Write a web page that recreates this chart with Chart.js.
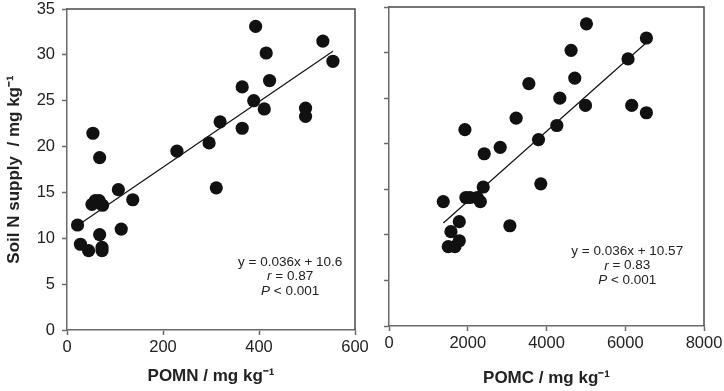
<!DOCTYPE html>
<html>
<head>
<meta charset="utf-8">
<script src="https://cdn.jsdelivr.net/npm/chart.js@4/dist/chart.umd.min.js"></script>
<style>
  html, body { margin: 0; padding: 0; background: #fff; }
  #wrap { position: relative; width: 724px; height: 391px; }
  canvas { position: absolute; top: 0; }
  #chartA { left: 0; }
  #chartB { left: 370px; }
</style>
</head>
<body>
<div id="wrap">
  <canvas id="chartA" width="370" height="391"></canvas>
  <canvas id="chartB" width="354" height="391"></canvas>
</div>
<script>
// left panel: POMN vs soil N supply
const pomn    = [54, 68, 229, 296, 319, 311, 365, 365, 389, 393, 415, 422, 411, 497, 497, 533, 554,
                 107, 137, 22, 28, 45, 68, 73, 73, 113, 52, 59, 67, 74];
const supplyA = [21.45, 18.8, 19.5, 20.4, 22.7, 15.5, 22.0, 26.5, 25.0, 33.1, 30.2, 27.2, 24.1, 24.2, 23.3, 31.5, 29.3,
                 15.3, 14.2, 11.45, 9.35, 8.65, 10.4, 9.0, 8.65, 11.0, 13.7, 14.1, 14.1, 13.6];
const fitAx = [25, 554];
const fitAy = [11.5, 30.4];

// right panel: POMC vs soil N supply
const pomc    = [5015, 6537, 6071, 4624, 4718, 3552, 4338, 4990, 6164, 6537, 3229, 4262, 1928, 3797, 2824, 2418, 3855, 2393,
                 1378, 1953, 2055, 2240, 2320, 1785, 1573, 1505, 1674, 1785, 3070];
const supplyB = [33.15, 31.6, 29.3, 30.25, 27.2, 26.6, 25.0, 24.2, 24.2, 23.4, 22.8, 22.0, 21.55, 20.45, 19.6, 18.9, 15.6, 15.25,
                 13.65, 14.1, 14.1, 14.1, 13.65, 11.45, 10.35, 8.7, 8.7, 9.35, 11.0];
const fitBx = [1380, 6540];
const fitBy = [11.3, 31.1];

const statsA = [[['y = 0.036x + 10.6', false]], [['r', true], [' = 0.87', false]], [['P', true], [' < 0.001', false]]];
const statsB = [[['y = 0.036x + 10.57', false]], [['r', true], [' = 0.83', false]], [['P', true], [' < 0.001', false]]];

const FONT = '"Liberation Sans", Arial, sans-serif';
const AXIS = '#6a6a6a';

const pts = (xs, ys) => xs.map((x, i) => ({ x, y: ys[i] }));

// closes the box on top and right
const boxPlugin = {
  id: 'box',
  afterDraw(chart) {
    const { ctx, chartArea: a } = chart;
    ctx.save();
    ctx.strokeStyle = '#4a4a4a';
    ctx.lineWidth = 1.5;
    ctx.beginPath();
    ctx.moveTo(a.left, a.top);
    ctx.lineTo(a.right, a.top);
    ctx.lineTo(a.right, a.bottom);
    ctx.stroke();
    ctx.restore();
  }
};

// regression text block
const statPlugin = {
  id: 'stat',
  afterDraw(chart, args, opts) {
    const { ctx } = chart;
    const cx = chart.scales.x.getPixelForValue(opts.x);
    let cy = chart.scales.y.getPixelForValue(opts.y);
    ctx.save();
    ctx.fillStyle = '#222';
    ctx.textBaseline = 'middle';
    ctx.textAlign = 'left';
    opts.lines.forEach(line => {
      const fonts = line.map(([t, it]) => (it ? 'italic ' : '') + '13.5px ' + FONT);
      let w = 0;
      line.forEach(([t], i) => { ctx.font = fonts[i]; w += ctx.measureText(t).width; });
      let x = cx - w / 2;
      line.forEach(([t], i) => { ctx.font = fonts[i]; ctx.fillText(t, x, cy); x += ctx.measureText(t).width; });
      cy += 14.5;
    });
    ctx.restore();
  }
};

function makeChart(el, cfg) {
  return new Chart(el.getContext('2d'), {
    type: 'scatter',
    data: {
      datasets: [
        { data: pts(cfg.xs, cfg.ys), pointRadius: 6.6, pointHoverRadius: 6.6, backgroundColor: '#111', borderWidth: 0 },
        { type: 'line', data: pts(cfg.fx, cfg.fy), borderColor: '#111', borderWidth: 1.2, pointRadius: 0, fill: false }
      ]
    },
    options: {
      responsive: false, animation: false,
      layout: { padding: cfg.pad },
      plugins: { legend: { display: false }, tooltip: { enabled: false }, stat: { x: cfg.sx, y: cfg.sy, lines: cfg.stats } },
      scales: {
        x: {
          type: 'linear', min: 0, max: cfg.xmax,
          ticks: { stepSize: cfg.xstep, padding: 3, color: '#222', font: { family: FONT, size: 16.5 }, callback: v => v },
          grid: { drawOnChartArea: false, drawTicks: true, tickLength: 5, tickWidth: 1.5, tickColor: AXIS },
          border: { color: AXIS, width: 1.5 },
          title: { display: true, text: cfg.xtitle, color: '#222', padding: { top: 0, bottom: cfg.xtpad }, font: { family: FONT, size: 17, weight: 'bold' } },
          afterFit: s => { s.height = cfg.xh; s.paddingLeft = 0; s.paddingRight = 0; }
        },
        y: {
          min: 0, max: 35,
          ticks: { display: cfg.ylabels, stepSize: 5, padding: 7, color: '#222', font: { family: FONT, size: 16.5 } },
          grid: { drawOnChartArea: false, drawTicks: true, tickLength: 5, tickWidth: 1.5, tickColor: AXIS },
          border: { color: AXIS, width: 1.5 },
          title: { display: cfg.ylabels, text: 'Soil N supply  / mg kg⁻¹', color: '#222', padding: { top: 4, bottom: 0 }, font: { family: FONT, size: 17, weight: 'bold' } },
          afterFit: s => { s.width = cfg.yw; s.paddingTop = 0; s.paddingBottom = 0; }
        }
      }
    },
    plugins: [boxPlugin, statPlugin]
  });
}

makeChart(document.getElementById('chartA'), {
  xs: pomn, ys: supplyA, fx: fitAx, fy: fitAy, xmax: 600, xstep: 200,
  xtitle: 'POMN / mg kg⁻¹', ylabels: true, yw: 67, xh: 61, xtpad: 4,
  pad: { top: 9, right: 15, left: 0, bottom: 0 },
  sx: 465, sy: 7.4, stats: statsA
});

makeChart(document.getElementById('chartB'), {
  xs: pomc, ys: supplyB, fx: fitBx, fy: fitBy, xmax: 8000, xstep: 2000,
  xtitle: 'POMC / mg kg⁻¹', ylabels: false, yw: 19, xh: 65, xtpad: 2,
  pad: { top: 7, right: 20, left: 0, bottom: 0 },
  sx: 6050, sy: 8.2, stats: statsB
});
</script>
</body>
</html>
